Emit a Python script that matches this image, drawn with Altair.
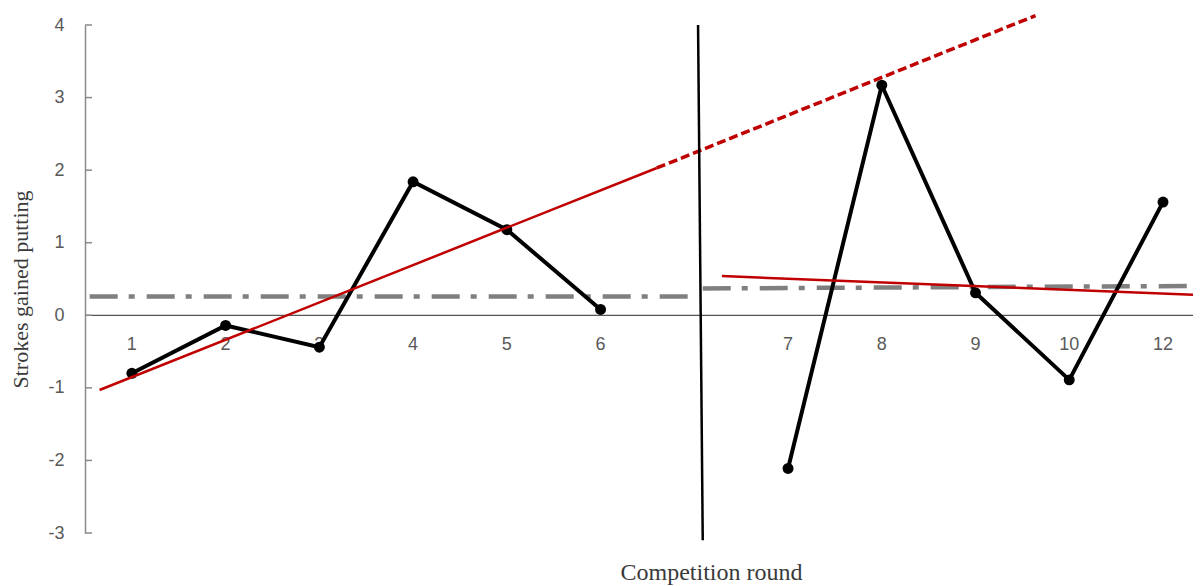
import altair as alt
import pandas as pd

# ---- data ----
round_labels = ["1", "2", "3", "4", "5", "6", "7", "8", "9", "10", "12"]
round_pos = [1, 2, 3, 4, 5, 6, 8, 9, 10, 11, 12]
strokes = [-0.80, -0.14, -0.44, 1.84, 1.18, 0.08, -2.11, 3.17, 0.31, -0.89, 1.56]
phase = ["A", "A", "A", "A", "A", "A", "B", "B", "B", "B", "B"]

y_ticks = [-3, -2, -1, 0, 1, 2, 3, 4]

# trend / level lines (start x, start y, end x, end y)
trend_a_solid = [0.655, -1.03, 6.6, 2.03]
trend_a_dashed = [6.6, 2.03, 10.64, 4.13]
trend_b = [7.295, 0.54, 12.32, 0.284]
level_a = [0.55, 0.26, 6.95, 0.26]
level_b = [7.09, 0.37, 12.32, 0.404]
intervention = [7.04, 4.0, 7.09, -3.10]

W, H = 1108, 508
XDOM = [0.5, 12.32]
YDOM = [-3, 4]

df = pd.DataFrame({"x": round_pos, "y": strokes, "phase": phase, "label": round_labels})

def seg(v):
    return pd.DataFrame({"x": [v[0]], "y": [v[1]], "x2": [v[2]], "y2": [v[3]]})

xs = alt.Scale(domain=XDOM, nice=False, zero=False)
ys = alt.Scale(domain=YDOM, nice=False, zero=False)

x_axis = alt.Axis(labels=False, ticks=False, domain=False, grid=False,
                  title="Competition round", titleFont="Liberation Serif",
                  titleFontSize=24, titleFontWeight="normal", titleColor="#3a3a3a",
                  titleX=626, titleY=46, titleAlign="center", titleBaseline="alphabetic")
y_axis = alt.Axis(values=y_ticks, ticks=False, grid=False, domainColor="#8a8a8a",
                  domainWidth=1.5, labelFont="Liberation Sans", labelFontSize=18,
                  labelColor="#595959", labelPadding=21,
                  labelExpr="datum.value < 0 ? '-' + abs(datum.value) : '' + datum.value",
                  title="Strokes gained putting", titleFont="Liberation Serif",
                  titleFontSize=22, titleFontWeight="normal", titleColor="#3a3a3a",
                  titleX=-65, titleY=264, titleAngle=-90, titleAlign="center",
                  titleBaseline="middle")

base_labels = alt.Chart(df).mark_text(
    font="Liberation Sans", fontSize=18, color="#595959", baseline="alphabetic", dy=35
).encode(
    x=alt.X("x:Q", scale=xs, axis=x_axis),
    y=alt.Y("y:Q", scale=ys, axis=y_axis),
    text="label:N",
).transform_calculate(y="0")

zero_line = alt.Chart(pd.DataFrame({"v": [0]})).mark_rule(color="#555555", strokeWidth=1.3).encode(
    y=alt.Y("v:Q", scale=ys), x=alt.value(0), x2=alt.value(W)
)

ytick_marks = alt.Chart(pd.DataFrame({"v": y_ticks})).mark_rule(color="#8a8a8a", strokeWidth=1.5).encode(
    y=alt.Y("v:Q", scale=ys), x=alt.value(0), x2=alt.value(7)
)

def seg_layer(v, **style):
    return alt.Chart(seg(v)).mark_rule(**style).encode(
        x=alt.X("x:Q", scale=xs), y=alt.Y("y:Q", scale=ys),
        x2="x2:Q", y2="y2:Q",
    )

level_style = dict(color="#7f7f7f", strokeWidth=4.5, strokeDash=[28, 11, 6, 12])
lev_a = seg_layer(level_a, **level_style)
lev_b = seg_layer(level_b, **level_style)
tr_a = seg_layer(trend_a_solid, color="#c00000", strokeWidth=2.5)
tr_a_d = seg_layer(trend_a_dashed, color="#c00000", strokeWidth=3.5, strokeDash=[9, 4])
tr_b = seg_layer(trend_b, color="#c00000", strokeWidth=2.5)
vline = seg_layer(intervention, color="#000000", strokeWidth=2.5)

series = alt.Chart(df).mark_line(color="#000000", strokeWidth=4).encode(
    x=alt.X("x:Q", scale=xs), y=alt.Y("y:Q", scale=ys), detail="phase:N"
)
pts = alt.Chart(df).mark_circle(color="#000000", size=120, opacity=1).encode(
    x=alt.X("x:Q", scale=xs), y=alt.Y("y:Q", scale=ys)
)

chart = alt.layer(
    base_labels, zero_line, ytick_marks, lev_a, lev_b, series, pts, tr_a, tr_a_d, tr_b, vline
).properties(
    width=W, height=H,
    padding={"left": 77, "top": 17, "right": 0, "bottom": 53},
    autosize=alt.AutoSizeParams(type="none"),
    background="#ffffff",
).configure_view(stroke=None)

chart.save("out.html", embed_options={"renderer": "svg", "actions": False})
